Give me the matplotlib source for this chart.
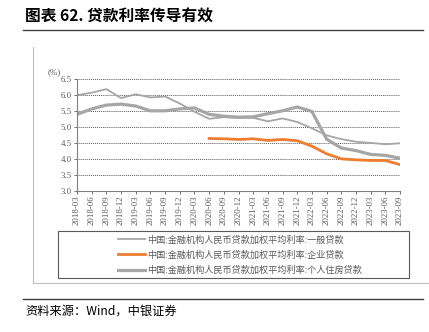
import matplotlib
matplotlib.use('Agg')
import matplotlib.pyplot as plt
from matplotlib.patches import Rectangle
from matplotlib.lines import Line2D

plt.rcParams['font.family'] = ['Noto Sans CJK SC', 'DejaVu Sans']

# 季度
dates = ['2018-03', '2018-06', '2018-09', '2018-12', '2019-03', '2019-06',
         '2019-09', '2019-12', '2020-03', '2020-06', '2020-09', '2020-12',
         '2021-03', '2021-06', '2021-09', '2021-12', '2022-03', '2022-06',
         '2022-09', '2022-12', '2023-03', '2023-06', '2023-09']
# 一般贷款
general = [6.00, 6.08, 6.19, 5.91, 6.03, 5.93, 5.96, 5.74, 5.48, 5.26, 5.31, 5.29,
           5.29, 5.18, 5.27, 5.16, 4.96, 4.74, 4.62, 4.54, 4.50, 4.46, 4.49]
# 企业贷款 (2020-06 起)
corp = [4.64, 4.63, 4.61, 4.63, 4.58, 4.61, 4.57, 4.40, 4.16, 4.00, 3.97, 3.95, 3.95, 3.82]
# 个人住房贷款
mortgage = [5.40, 5.57, 5.69, 5.72, 5.66, 5.51, 5.51, 5.57, 5.60, 5.40, 5.34, 5.31,
            5.32, 5.42, 5.51, 5.63, 5.49, 4.62, 4.34, 4.26, 4.14, 4.11, 4.02]

names = ['中国:金融机构人民币贷款加权平均利率:一般贷款',
         '中国:金融机构人民币贷款加权平均利率:企业贷款',
         '中国:金融机构人民币贷款加权平均利率:个人住房贷款']

gray = '#A6A6A6'
orange = '#ED7D31'

fig = plt.figure(figsize=(4.29, 3.32), dpi=100)
W, H = 429, 332

def fx(x): return x / W
def fy(y): return 1 - y / H

# 标题
fig.text(fx(25), fy(17), '图表 62. 贷款利率传导有效', fontsize=11.3, fontweight='bold',
         color='black', va='center', ha='left')
fig.add_artist(Line2D([fx(23), fx(423)], [fy(30), fy(30)], color='#404040', lw=1.0))
fig.add_artist(Line2D([fx(23), fx(423)], [fy(299), fy(299)], color='#404040', lw=1.0))
fig.text(fx(25), fy(311), '资料来源：Wind，中银证券', fontsize=8.8, style='italic',
         color='black', va='center', ha='left')

# 外框
fig.add_artist(Line2D([fx(33), fx(33)], [fy(47), fy(283)], color='#BFBFBF', lw=0.8))
fig.add_artist(Line2D([fx(33), fx(429)], [fy(283), fy(283)], color='#BFBFBF', lw=0.8))

ax = fig.add_axes([fx(77), fy(190.7), (400 - 77) / W, (190.7 - 79.3) / H])
x = list(range(len(dates)))
ax.plot(x, general, color=gray, lw=1.3)
ax.plot(x[9:], corp, color=orange, lw=2.0)
ax.plot(x, mortgage, color=gray, lw=2.3)

ax.set_ylim(3.0, 6.5)
ax.set_xlim(0, len(dates) - 1)
ax.set_yticks([3.0, 3.5, 4.0, 4.5, 5.0, 5.5, 6.0, 6.5])
ax.set_yticklabels(['%.1f' % v for v in ax.get_yticks()])
ax.set_xticks(x)
ax.set_xticklabels(dates, rotation=90)
ax.tick_params(axis='both', labelsize=6.3, colors='#595959', length=2, width=0.6)
ax.tick_params(axis='y', pad=2)
ax.tick_params(axis='x', pad=1.5)
for lab in ax.get_xticklabels() + ax.get_yticklabels():
    lab.set_family(['Liberation Serif', 'DejaVu Serif'])
ax.yaxis.grid(True, linestyle=(0, (1, 1)), color='#595959', lw=0.7)
ax.set_axisbelow(True)
for s in ['top', 'right']:
    ax.spines[s].set_visible(False)
for s in ['left', 'bottom']:
    ax.spines[s].set_color('#808080')
    ax.spines[s].set_linewidth(0.8)
ax.text(-0.09, 1.05, '(%)', transform=ax.transAxes, fontsize=6.5, color='#595959',
        family=['Liberation Serif', 'DejaVu Serif'])

# 图例
fig.add_artist(Rectangle((fx(58), fy(278)), (409 - 58) / W, (278 - 231) / H,
                         transform=fig.transFigure, fill=False, ec='#595959', lw=0.8))
handles = [Line2D([], [], color=gray, lw=1.3),
           Line2D([], [], color=orange, lw=2.0),
           Line2D([], [], color=gray, lw=2.3)]
fig.legend(handles, names, loc='center', bbox_to_anchor=(fx(240), fy(255)),
           frameon=False, fontsize=6.6, handlelength=3.0, handletextpad=0.2,
           labelspacing=0.65, labelcolor='#595959')

fig.savefig('out.png', dpi=100)
